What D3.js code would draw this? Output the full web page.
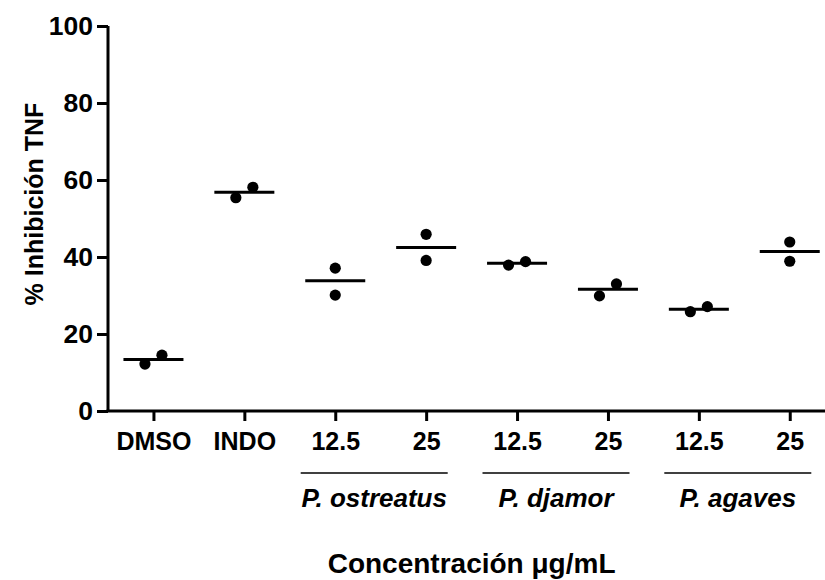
<!DOCTYPE html>
<html>
<head>
<meta charset="utf-8">
<script src="https://cdn.jsdelivr.net/npm/d3@7"></script>
<style>
  body { margin: 0; background: #fff; }
  svg { display: block; font-family: "Liberation Sans", Arial, sans-serif; }
</style>
</head>
<body>
<div id="chart"></div>
<script>
// Data
const categories = ['DMSO', 'INDO', 'Pos12', 'Pos25', 'Pdj12', 'Pdj25', 'Pag12', 'Pag25'];
const tickLabels = ['DMSO', 'INDO', '12.5', '25', '12.5', '25', '12.5', '25'];
const replicate1 = [12.2, 55.4, 37.1, 45.9, 37.9, 29.9, 25.8, 43.9];
const replicate2 = [14.5, 58.1, 30.1, 39.1, 38.8, 33.0, 27.1, 38.9];
const means = [13.4, 56.8, 33.8, 42.5, 38.4, 31.6, 26.4, 41.4];
const yTicks = [0, 20, 40, 60, 80, 100];
const groups = [
    { name: 'P. ostreatus', from: 'Pos12', to: 'Pos25' },
    { name: 'P. djamor', from: 'Pdj12', to: 'Pdj25' },
    { name: 'P. agaves', from: 'Pag12', to: 'Pag25' }
];

const width = 825;
const height = 580;
const margin = { top: 26, left: 108, bottom: 169 };
const plotBottom = height - margin.bottom; // 411
const xEnd = margin.left + 8 * 90.9;

const svg = d3.select('#chart')
    .append('svg')
    .attr('width', width)
    .attr('height', height);

// Scales
const x = d3.scalePoint()
    .domain(categories)
    .range([margin.left, xEnd])
    .padding(0.5);

const y = d3.scaleLinear()
    .domain([0, 100])
    .range([plotBottom, margin.top]);

// Y axis
const yAxis = svg.append('g')
    .attr('transform', `translate(${margin.left},0)`)
    .call(d3.axisLeft(y).tickValues(yTicks).tickSize(11).tickPadding(4));
yAxis.select('.domain').attr('stroke-width', 3).attr('d', `M0,${margin.top}V${plotBottom}`);
yAxis.selectAll('.tick line').attr('stroke-width', 3);
yAxis.selectAll('.tick text')
    .attr('font-size', 26.5)
    .attr('font-weight', 'bold')
    .attr('fill', '#000');

// X axis
const xAxis = svg.append('g')
    .attr('transform', `translate(0,${plotBottom})`)
    .call(d3.axisBottom(x).tickSize(10).tickPadding(11).tickFormat((d, i) => tickLabels[i]));
xAxis.select('.domain').attr('stroke-width', 3)
    .attr('d', `M${margin.left - 1.5},0H${xEnd}`);
xAxis.selectAll('.tick line').attr('stroke-width', 3);
xAxis.selectAll('.tick text')
    .attr('font-size', 25)
    .attr('font-weight', 'bold')
    .attr('fill', '#000');

// Group labels with lines
groups.forEach(g => {
    const cx = (x(g.from) + x(g.to)) / 2 - 6.5;
    svg.append('line')
        .attr('x1', cx - 73.5)
        .attr('x2', cx + 73.5)
        .attr('y1', 473)
        .attr('y2', 473)
        .attr('stroke', '#000')
        .attr('stroke-width', 1.5);
    svg.append('text')
        .attr('x', cx)
        .attr('y', 507)
        .attr('text-anchor', 'middle')
        .attr('font-size', 26)
        .attr('font-weight', 'bold')
        .attr('font-style', 'italic')
        .text(g.name);
});

// Axis titles
svg.append('text')
    .attr('transform', 'translate(43,204) rotate(-90)')
    .attr('text-anchor', 'middle')
    .attr('font-size', 25)
    .attr('font-weight', 'bold')
    .text('% Inhibición TNF');

svg.append('text')
    .attr('x', (x(categories[0]) + x(categories[categories.length - 1])) / 2)
    .attr('y', 573)
    .attr('text-anchor', 'middle')
    .attr('font-size', 28)
    .attr('font-weight', 'bold')
    .text('Concentración μg/mL');

// Mean lines
svg.selectAll('.mean')
    .data(means)
    .enter()
    .append('line')
    .attr('class', 'mean')
    .attr('x1', (d, i) => x(categories[i]) - 30)
    .attr('x2', (d, i) => x(categories[i]) + 30)
    .attr('y1', d => y(d))
    .attr('y2', d => y(d))
    .attr('stroke', '#000')
    .attr('stroke-width', 3);

// Points: side by side when they would overlap, stacked otherwise
const r = 5.6;
const points = [];
categories.forEach((c, i) => {
    const a = replicate1[i], b = replicate2[i];
    const overlap = Math.abs(y(a) - y(b)) < 2 * r + 4;
    const lo = Math.min(a, b), hi = Math.max(a, b);
    points.push({ c, v: lo, dx: overlap ? -8.5 : 0 });
    points.push({ c, v: hi, dx: overlap ? 8.5 : 0 });
});

svg.selectAll('.dot')
    .data(points)
    .enter()
    .append('circle')
    .attr('class', 'dot')
    .attr('cx', d => x(d.c) + d.dx)
    .attr('cy', d => y(d.v))
    .attr('r', r)
    .attr('fill', '#000');
</script>
</body>
</html>
